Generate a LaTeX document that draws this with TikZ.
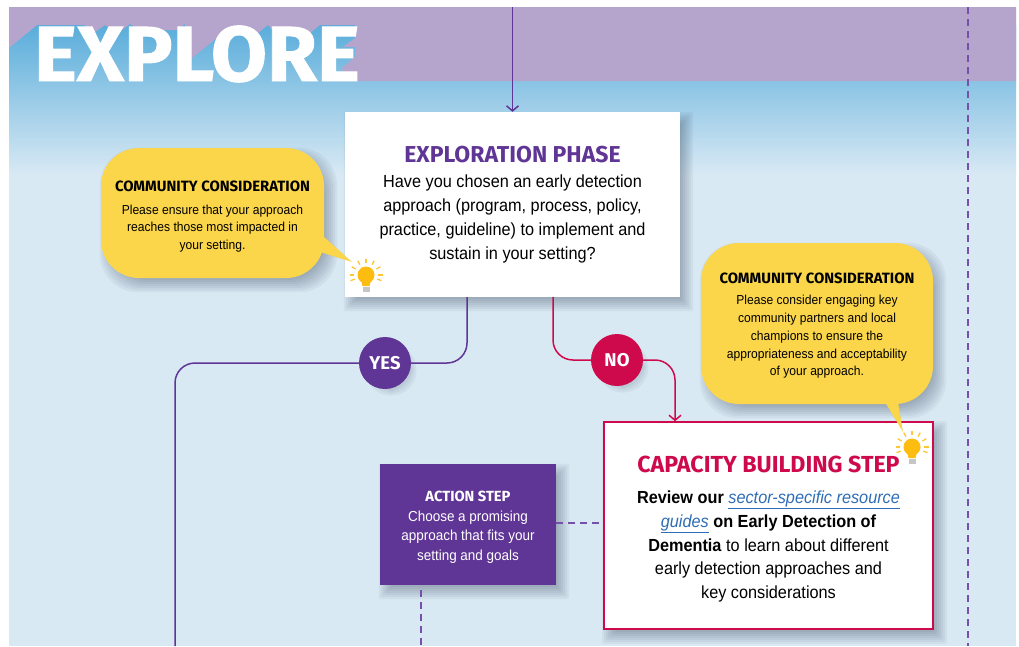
\documentclass[tikz,border=0pt]{standalone}
\usepackage{fontspec}
\setmainfont{Liberation Sans}[FakeStretch=0.93]
\newfontfamily\dinfont{Fira Sans}
\newfontfamily\bigfont{Fira Sans Bold}[FakeBold=1.2,FakeStretch=1.04]
\usetikzlibrary{arrows.meta,backgrounds}
\definecolor{skytop}{HTML}{5AADDB}
\definecolor{paleblue}{HTML}{D9E9F4}
\definecolor{bandpurple}{HTML}{B5A5CC}
\definecolor{deeppurple}{HTML}{5F3595}
\definecolor{dashpurple}{HTML}{7650AA}
\definecolor{deepred}{HTML}{CE0A4C}
\definecolor{calloutyellow}{HTML}{FBD64A}
\definecolor{bulbyellow}{HTML}{FDBD10}
\definecolor{linkblue}{HTML}{2F6DB5}
\definecolor{shadowblue}{HTML}{2A3A50}
% soft shadow under a named node
\newcommand{\softshadow}[2]{%
  \foreach \s in {-5,-3,...,7} {
    \fill[shadowblue, opacity=.055, rounded corners=#2]
      ([shift={(6-\s,7-\s)}]#1.north west) rectangle ([shift={(6+\s,7+\s)}]#1.south east);
  }}
\newcommand{\fsize}[2]{\fontsize{#1}{#2}\selectfont}
\begin{document}
\begin{tikzpicture}[x=1pt,y=-1pt]
\tikzstyle{phasebox} = [fill=white, minimum width=335pt, minimum height=185pt, inner sep=0pt, align=center, font=\fsize{17.5}{24}] % white question box
\tikzstyle{capbox} = [fill=white, draw=deepred, line width=1.6pt, minimum width=329pt, minimum height=207pt, inner sep=0pt, align=center, font=\fsize{17.5}{23.8}]
\tikzstyle{actionbox} = [fill=deeppurple, text=white, minimum width=176pt, minimum height=121pt, inner sep=0pt, align=center, font=\fsize{14.5}{19.7}]
\tikzstyle{tipbox} = [fill=calloutyellow, rounded corners=38pt, inner sep=0pt, align=center, font=\fsize{13}{17.7}] % yellow callout
\tikzstyle{answer} = [circle, minimum size=52pt, inner sep=0pt, text=white, font=\dinfont\bfseries\fsize{18.5}{18.5}]
\tikzstyle{yesline} = [draw=deeppurple, line width=1.5pt, rounded corners=20pt]
\tikzstyle{noline} = [draw=deepred, line width=1.5pt, rounded corners=20pt]
\tikzstyle{dashline} = [draw=dashpurple, line width=1.4pt, dash pattern=on 6.5pt off 5.5pt]
\tikzstyle{barb} = [-{Straight Barb[length=5pt,width=12pt]}]
\tikzset{bulb/.pic={ % lamp with rays
  \foreach \a in {20,0,-30,-60,-90,-120,-150,180,160}
    \draw[bulbyellow!85!white, line width=1.3pt] (\a:12) -- (\a:16.5);
  \fill[bulbyellow] (0,0) circle (8.5);
  \fill[bulbyellow] (-5,5) -- (5,5) -- (3.5,11) -- (-3.5,11) -- cycle;
  \fill[gray!45] (-3.5,11.5) rectangle (3.5,16.5);
}}

\useasboundingbox (0,0) rectangle (1019,646);

% boxes
\node[phasebox] (phase) at (512.5,204.5) {{\dinfont\bfseries\fsize{23}{23}\color{deeppurple}EXPLORATION PHASE\rule[-12pt]{0pt}{1pt}}\\
  Have you chosen an early detection\\
  approach (program, process, policy,\\
  practice, guideline) to implement and\\
  sustain in your setting?};
\node[capbox] (capacity) at (768.5,525.5) {{\dinfont\bfseries\fsize{23.2}{23.2}\color{deepred}\rule{0pt}{24pt}CAPACITY BUILDING STEP\rule[-17pt]{0pt}{1pt}}\\
  \textbf{Review our} {\color{linkblue}\underline{\textit{sector-specific resource}}}\\
  {\color{linkblue}\underline{\textit{guides}}} \textbf{on Early Detection of}\\
  \textbf{Dementia} to learn about different\\
  early detection approaches and\\
  key considerations};
\node[actionbox] (action) at (468,524.5) {{\dinfont\bfseries\fsize{14.7}{14.7}\rule{0pt}{16pt}ACTION STEP\rule[-9pt]{0pt}{1pt}}\\
  Choose a promising\\
  approach that fits your\\
  setting and goals};
\node[answer, fill=deeppurple] (yes) at (385,363) {YES};
\node[answer, fill=deepred] (no) at (617,360) {NO};

% callouts
\node[tipbox, minimum width=223pt, minimum height=130pt] (tipleft) at (212.5,213) {{\dinfont\bfseries\fsize{14.9}{14.9}\rule{0pt}{18pt}COMMUNITY CONSIDERATION\rule[-12pt]{0pt}{1pt}}\\
  Please ensure that your approach\\
  reaches those most impacted in\\
  your setting.};
\node[tipbox, minimum width=232pt, minimum height=161pt] (tipright) at (817,323.5) {{\dinfont\bfseries\fsize{14.9}{14.9}\rule{0pt}{14.5pt}COMMUNITY CONSIDERATION\rule[-11.5pt]{0pt}{1pt}}\\
  Please consider engaging key\\
  community partners and local\\
  champions to ensure the\\
  appropriateness and acceptability\\
  of your approach.};
\coordinate (tiplefttip) at (352,262);
\coordinate (taillefta) at (323,236);
\coordinate (tailleftb) at (320,252);
\coordinate (tailrighttip) at (903,432);
\coordinate (tailrighta) at (885,402);
\coordinate (tailrightb) at (898,402);
\fill[calloutyellow] (taillefta) -- (tiplefttip) -- (tailleftb) -- cycle;
\fill[calloutyellow] (tailrighta) -- (tailrighttip) -- (tailrightb) -- cycle;
\pic at (366,275) {bulb};
\pic at (912,447) {bulb};

% connectors
\coordinate (topstart) at (512.5,7);
\coordinate (yesend) at (175,646);
\coordinate (rightdashtop) at (968,7);
\coordinate (rightdashend) at (968,646);
\coordinate (actiondash) at (421,590);
\coordinate (actiondashend) at (421,646);
\draw[draw=deeppurple, line width=1.5pt, barb] (topstart) -- (phase.north);
\draw[yesline] ([xshift=-45.5pt]phase.south) |- (yes);
\draw[yesline] (yes) -| (yesend);
\draw[noline] ([xshift=40.5pt]phase.south) |- (no);
\draw[noline, barb] (no) -| ([xshift=-93.5pt]capacity.north);
\draw[dashline] ([yshift=1.5pt]action.east) -- ([yshift=2.5pt]capacity.west);
\draw[dashline] (actiondash) -- (actiondashend);
\draw[dashline] (rightdashtop) -- (rightdashend);

% panel, band and shadows
\begin{pgfonlayer}{background}
\fill[paleblue] (9,7) rectangle (1016,646);
\shade[top color=skytop, bottom color=paleblue] (9,25) rectangle (1016,175);
\fill[skytop] (9,7) rectangle (1016,25);
\fill[bandpurple] (9,7) -- (1016,7) -- (1016,81) -- (345,81) -- (342,68) -- (355,57) -- (355,47) -- (343,47) -- (355,38) -- (355,25)
  -- (320,25) -- (310,33) -- (275,33) -- (268,25) -- (258,33) -- (223,33) -- (192,58) -- (185,58) -- (185,24) -- (177,30)
  -- (140,30) -- (130,24) -- (122,30) -- (115,32) -- (105,25) -- (95,32) -- (85,32) -- (85,25) -- (37,25) -- (9,48) -- cycle;
\softshadow{phase}{2pt}
\softshadow{capacity}{2pt}
\softshadow{action}{2pt}
\softshadow{yes}{25pt}
\softshadow{no}{25pt}
\softshadow{tipleft}{38pt}
\softshadow{tipright}{38pt}
\fill[shadowblue, opacity=.15, shift={(3,6)}] (taillefta) -- (tiplefttip) -- (tailleftb) -- cycle;
\fill[shadowblue, opacity=.15, shift={(4,3)}] (tailrighta) -- (tailrighttip) -- (tailrightb) -- cycle;
\end{pgfonlayer}

\node[anchor=base west, inner sep=0pt, text=white, font=\bigfont\fsize{78}{78}] (title) at (34,81) {EXPLORE};
\end{tikzpicture}
\end{document}
